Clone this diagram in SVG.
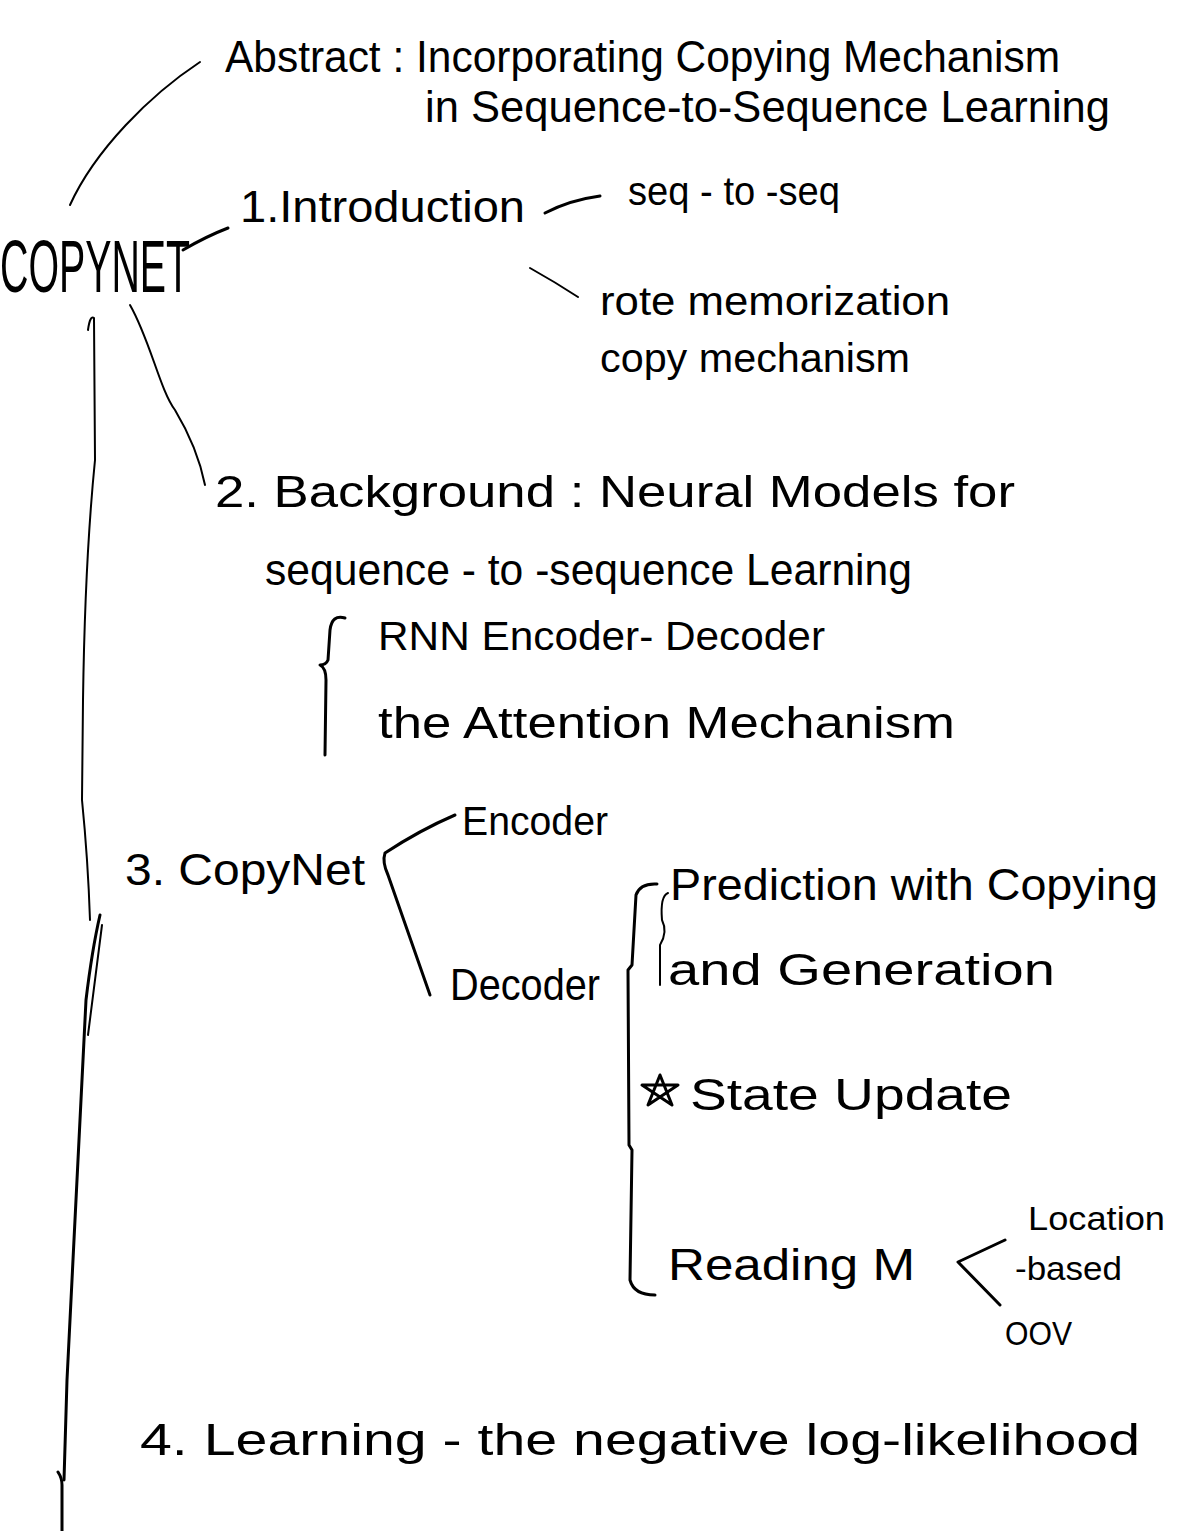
<svg xmlns="http://www.w3.org/2000/svg" width="1194" height="1531" viewBox="0 0 1194 1531">
<style>
text{font-family:"Liberation Sans","DejaVu Sans",sans-serif;fill:#000;}
.l{font-size:44px;}
.m{font-size:40px;}
.s{font-size:34px;}
.c{fill:none;stroke:#000;stroke-width:3;stroke-linecap:round;stroke-linejoin:round;}
.t{stroke-width:2;}
</style>
<rect width="1194" height="1531" fill="#fff"/>
<g id="connectors">
<path class="c t" d="M70,205 C 95,150 150,95 200,62"/>
<path class="c" d="M183,250 C 200,240 215,233 228,228"/>
<path class="c" d="M545,213 Q 570,200 600,196"/>
<path class="c t" d="M530,268 Q 555,282 578,297"/>
<path class="c t" d="M88,330 Q 90,315 94,318 L 95,460 Q 85,560 83,700 L 82,800 Q 88,860 90,920"/>
<path class="c t" d="M130,305 C 150,340 160,390 175,410 C 190,435 200,460 205,485"/>
<path class="c" d="M100,915 Q 92,950 86,1000 L 67,1380 L 64,1480"/>
<path class="c t" d="M102,925 L 88,1035"/>
<path class="c" d="M58,1472 Q 62,1478 62,1485 L 62,1531"/>
<path class="c" d="M345,618 Q 332,614 330,630 L 328,660 Q 326,665 320,665 Q 326,668 326,680 L 325,755"/>
<path class="c" d="M455,815 Q 420,830 385,853 Q 382,862 388,875 L 430,995"/>
<path class="c" d="M657,884 Q 640,883 636,895 L 632,965 L 628,970 L 629,1145 L 632,1150 L 630,1280 Q 634,1295 655,1295"/>
<path class="c t" d="M668,893 Q 660,896 662,920 Q 668,932 660,945 L 660,985"/>
<path class="c" d="M1005,1240 L 958,1262 L 1000,1305"/>
</g>
<g id="abstract"><text class="l" x="225" y="72" textLength="835" lengthAdjust="spacingAndGlyphs">Abstract : Incorporating Copying Mechanism</text><text class="l" x="425" y="122" textLength="685" lengthAdjust="spacingAndGlyphs">in Sequence-to-Sequence Learning</text></g>
<g id="copynet"><text x="0" y="292" font-size="74" textLength="190" lengthAdjust="spacingAndGlyphs">COPYNET</text></g>
<g id="intro"><text class="l" x="240" y="222" textLength="285" lengthAdjust="spacingAndGlyphs">1.Introduction</text></g>
<g id="seq2seq"><text class="m" x="628" y="205" textLength="212" lengthAdjust="spacingAndGlyphs">seq - to -seq</text></g>
<g id="rote"><text class="m" x="600" y="315" textLength="350" lengthAdjust="spacingAndGlyphs">rote  memorization</text><text class="m" x="600" y="372" textLength="310" lengthAdjust="spacingAndGlyphs">copy  mechanism</text></g>
<g id="background"><text class="l" x="215" y="507" textLength="800" lengthAdjust="spacingAndGlyphs">2. Background : Neural  Models  for</text><text class="l" x="265" y="585" textLength="647" lengthAdjust="spacingAndGlyphs">sequence - to -sequence  Learning</text></g>
<g id="rnn"><text class="m" x="378" y="650" textLength="447" lengthAdjust="spacingAndGlyphs">RNN  Encoder- Decoder</text></g>
<g id="attention"><text class="l" x="378" y="738" textLength="577" lengthAdjust="spacingAndGlyphs">the  Attention  Mechanism</text></g>
<g id="copynet3"><text class="l" x="125" y="885" textLength="240" lengthAdjust="spacingAndGlyphs">3. CopyNet</text></g>
<g id="encoder"><text class="m" x="462" y="835" textLength="146" lengthAdjust="spacingAndGlyphs">Encoder</text></g>
<g id="decoder"><text class="l" x="450" y="1000" textLength="150" lengthAdjust="spacingAndGlyphs">Decoder</text></g>
<g id="prediction"><text class="l" x="670" y="900" textLength="488" lengthAdjust="spacingAndGlyphs">Prediction  with  Copying</text><text class="l" x="668" y="985" textLength="387" lengthAdjust="spacingAndGlyphs">and  Generation</text></g>
<g id="state"><path class="c" d="M648,1105 L 660,1075 L 672,1105 L 642,1085 L 678,1085 Z"/><text class="l" x="690" y="1110" textLength="322" lengthAdjust="spacingAndGlyphs">State  Update</text></g>
<g id="reading"><text class="l" x="668" y="1280" textLength="247" lengthAdjust="spacingAndGlyphs">Reading  M</text></g>
<g id="location"><text class="s" x="1028" y="1230" textLength="137" lengthAdjust="spacingAndGlyphs">Location</text><text class="s" x="1015" y="1280" textLength="107" lengthAdjust="spacingAndGlyphs">-based</text></g>
<g id="oov"><text class="s" x="1005" y="1345" textLength="67" lengthAdjust="spacingAndGlyphs">OOV</text></g>
<g id="learning"><text class="l" x="140" y="1455" textLength="1000" lengthAdjust="spacingAndGlyphs">4. Learning  -  the  negative  log-likelihood</text></g>
</svg>
